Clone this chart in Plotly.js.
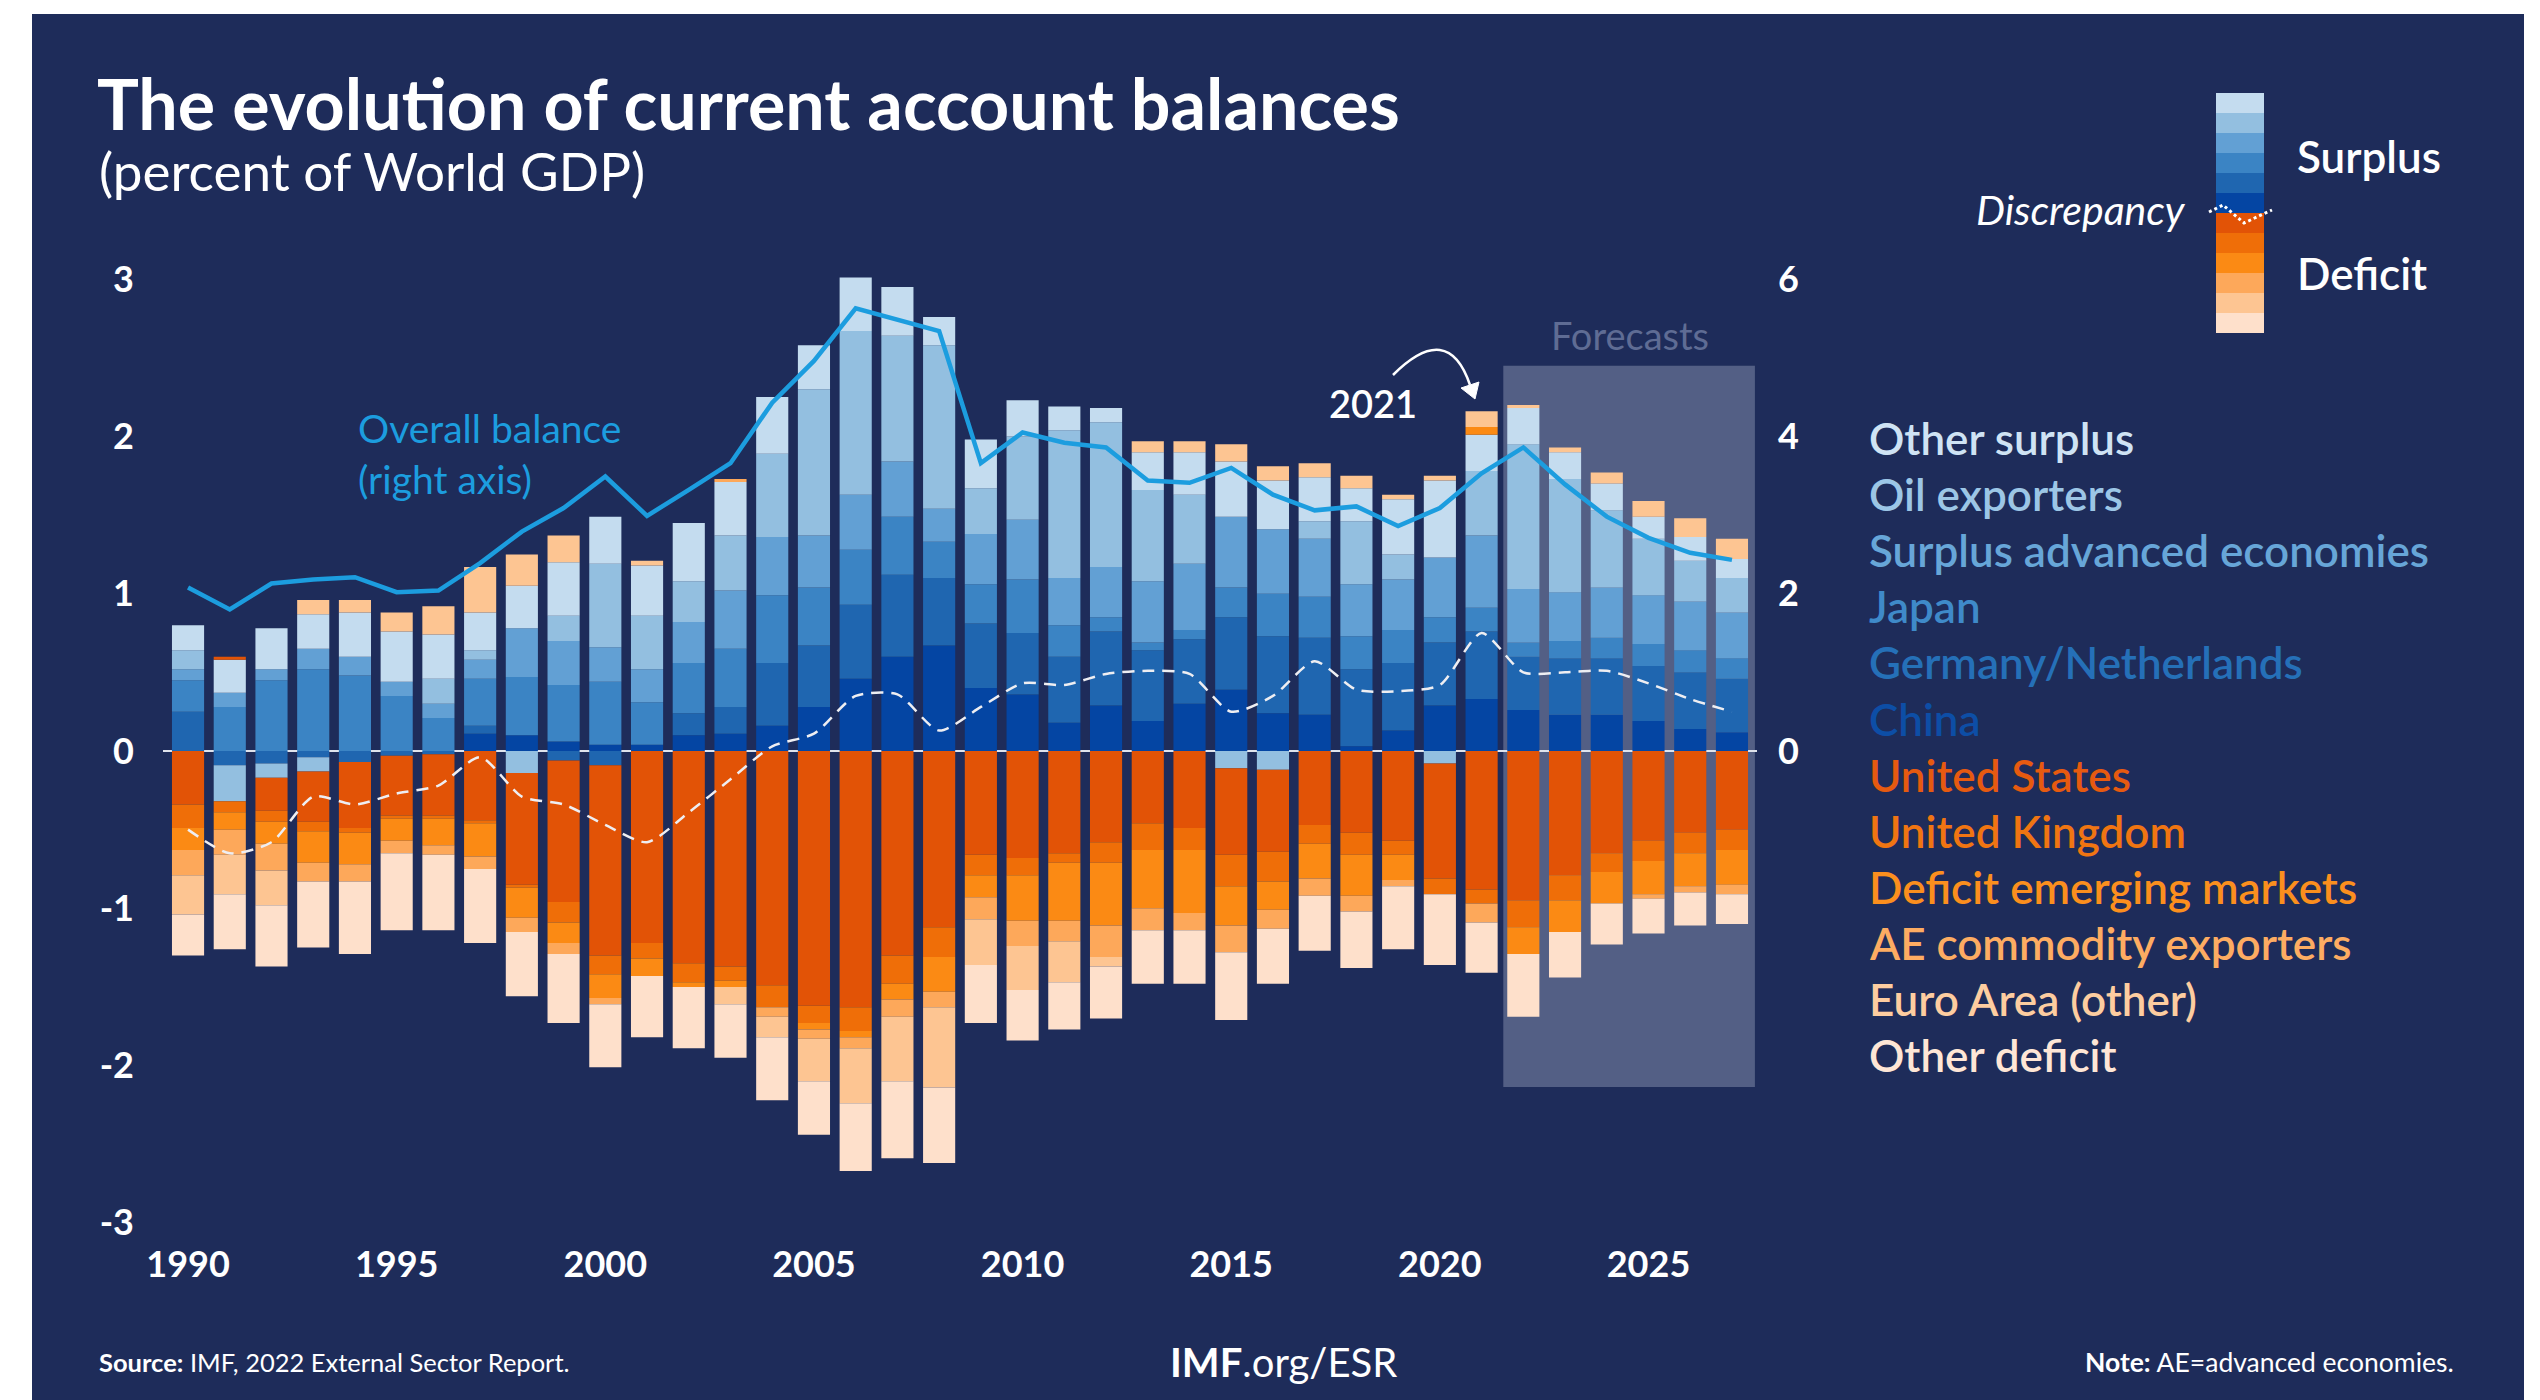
<!DOCTYPE html>
<html><head><meta charset="utf-8">
<script src="https://cdn.plot.ly/plotly-3.0.1.min.js"></script>
<style>
html,body{margin:0;padding:0;background:#ffffff;width:2540px;height:1400px;overflow:hidden}
#chart{position:absolute;left:32px;top:14px;width:2492px;height:1386px}
</style></head><body><div id="chart"></div><script>
// ---------------- data (percent of world GDP) ----------------
const years = [1990,1991,1992,1993,1994,1995,1996,1997,1998,1999,2000,2001,2002,2003,2004,2005,2006,2007,2008,2009,2010,2011,2012,2013,2014,2015,2016,2017,2018,2019,2020,2021,2022,2023,2024,2025,2026,2027];

const seriesNames = ["China","Germany/Netherlands","Japan","Surplus advanced economies","Oil exporters","Other surplus",
  "United States","United Kingdom","Deficit emerging markets","AE commodity exporters","Euro Area (other)","Other deficit"];

const china = [0,0,0,0,0,0,0,0.11,0.10,0.06, 0.04,0.04,0.10,0.11,0.16,0.28,0.46,0.60,0.67,0.40, 0.36,0.18,0.29,0.19,0.30,0.39,0.24,0.23,0.03,0.13, 0.29,0.33,0.26,0.23,0.23,0.19,0.14,0.12];
const germanyNetherlands = [0.25,-0.09,-0.08,-0.04,-0.07,-0.03,-0.02,0.05,0,-0.06, -0.09,0,0.14,0.17,0.40,0.39,0.47,0.52,0.43,0.41, 0.39,0.42,0.47,0.45,0.41,0.46,0.49,0.49,0.49,0.43, 0.40,0.43,0.34,0.36,0.36,0.35,0.36,0.34];
const japan = [0.20,0.28,0.45,0.52,0.48,0.35,0.21,0.30,0.37,0.36, 0.40,0.27,0.32,0.37,0.43,0.37,0.35,0.37,0.23,0.25, 0.34,0.20,0.09,0.05,0.06,0.19,0.27,0.26,0.21,0.21, 0.16,0.15,0.09,0.11,0.13,0.14,0.14,0.13];
const surplusAE = [0.07,0.09,0.07,0.13,0.12,0.09,0.09,0.12,0.31,0.28, 0.22,0.21,0.26,0.37,0.37,0.33,0.35,0.35,0.21,0.32, 0.38,0.30,0.32,0.39,0.42,0.45,0.41,0.37,0.33,0.32, 0.38,0.46,0.34,0.31,0.32,0.31,0.31,0.29];
const oilExporters = [0.12,-0.23,-0.09,-0.09,0,0,0.16,0.06,-0.14,0.16, 0.53,0.34,0.26,0.35,0.53,0.93,1.04,0.80,1.04,0.29, 0.53,0.94,0.92,0.58,0.44,-0.11,-0.12,0.11,0.40,0.16, -0.08,0.41,0.92,0.72,0.49,0.36,0.26,0.22];
const otherSurplus = [0.16,0.21,0.26,0.22,0.28,0.32,0.28,0.24,0.27,0.34, 0.30,0.32,0.37,0.34,0.36,0.28,0.34,0.31,0.18,0.31, 0.23,0.15,0.09,0.24,0.27,0.35,0.31,0.28,0.21,0.35, 0.49,0.23,0.23,0.17,0.17,0.14,0.15,0.12];
const unitedStates = [-0.34,0.02,-0.21,-0.32,-0.42,-0.38,-0.39,-0.44,-0.71,-0.90, -1.21,-1.22,-1.35,-1.37,-1.49,-1.62,-1.63,-1.30,-1.12,-0.66, -0.68,-0.65,-0.58,-0.46,-0.49,-0.55,-0.52,-0.47,-0.52,-0.57, -0.73,-0.88,-0.95,-0.79,-0.65,-0.57,-0.52,-0.50];
const unitedKingdom = [-0.15,-0.07,-0.07,-0.06,-0.03,-0.02,-0.02,-0.02,-0.02,-0.13, -0.12,-0.10,-0.12,-0.09,-0.14,-0.11,-0.15,-0.18,-0.19,-0.13, -0.11,-0.06,-0.13,-0.17,-0.14,-0.20,-0.19,-0.12,-0.14,-0.09, -0.10,-0.09,-0.17,-0.16,-0.12,-0.13,-0.13,-0.13];
const deficitEM = [-0.14,-0.11,-0.14,-0.20,-0.20,-0.14,-0.17,-0.21,-0.19,-0.13, -0.15,-0.11,-0.03,-0.04,0,-0.04,-0.04,-0.10,-0.22,-0.14, -0.29,-0.37,-0.40,-0.37,-0.40,-0.25,-0.18,-0.22,-0.26,-0.16, 0,0.05,-0.17,-0.20,-0.20,-0.21,-0.21,-0.22];
const aeCommodity = [-0.16,-0.16,-0.17,-0.12,-0.11,-0.08,-0.06,-0.08,-0.09,-0.07, -0.04,0,0,0.02,-0.06,-0.06,-0.07,-0.11,-0.10,-0.14, -0.16,-0.13,-0.20,-0.14,-0.11,-0.17,-0.12,-0.11,-0.10,-0.04, 0,-0.12,0,0,0,-0.03,-0.04,-0.06];
const euroOther = [-0.25,-0.25,-0.22,0.09,0.08,0.12,0.18,0.29,0.20,0.17, 0,0.03,0,-0.11,-0.13,-0.27,-0.35,-0.41,-0.51,-0.29, -0.28,-0.26,-0.06,0.07,0.07,0.11,0.09,0.09,0.08,0.03, 0.03,0.10,0.02,0.03,0.07,0.10,0.12,0.13];
const otherDeficit = [-0.26,-0.35,-0.39,-0.42,-0.46,-0.49,-0.48,-0.47,-0.41,-0.44, -0.40,-0.39,-0.39,-0.34,-0.40,-0.34,-0.43,-0.49,-0.48,-0.37, -0.32,-0.30,-0.33,-0.34,-0.34,-0.43,-0.35,-0.35,-0.36,-0.40, -0.45,-0.32,-0.40,-0.29,-0.26,-0.22,-0.21,-0.19];

// right axis
const overallBalance = [2.08,1.80,2.13,2.18,2.21,2.02,2.04,2.39,2.79,3.09, 3.49,2.99,3.32,3.66,4.43,4.96,5.63,5.49,5.34,3.66, 4.05,3.92,3.86,3.44,3.41,3.60,3.26,3.06,3.11,2.86, 3.09,3.53,3.86,3.39,2.98,2.71,2.52,2.43];
// left axis
const discrepancy = [-0.50,-0.65,-0.58,-0.29,-0.34,-0.27,-0.22,-0.04,-0.29,-0.34, -0.47,-0.58,-0.39,-0.18,0.03,0.11,0.35,0.36,0.13,0.28, 0.43,0.42,0.49,0.51,0.49,0.25,0.35,0.57,0.39,0.38, 0.42,0.75,0.50,0.50,0.51,0.43,0.33,0.25];

const xTickVals = [1990,1995,2000,2005,2010,2015,2020,2025];
const yTickVals = [-3,-2,-1,0,1,2,3];
const yTickText = ["-3","-2","-1","0","1","2","3"];
const y2TickVals = [0,2,4,6];
const y2TickText = ["0","2","4","6"];

// ---------------- styles ----------------
const seriesValues = [china,germanyNetherlands,japan,surplusAE,oilExporters,otherSurplus,unitedStates,unitedKingdom,deficitEM,aeCommodity,euroOther,otherDeficit];
const seriesColors = ["#0445a3","#1f66b0","#3b84c4","#62a0d4","#93bfe0","#c4dcef","#e25306","#ef6e08","#fb8a14","#fda85a","#fdc592","#fee0cb"];
const legendTextColors = ["#0d4ea6","#2570b8","#3f8ac9","#67a6d8","#9cc6e6","#cfe3f4","#e65a10","#f07512","#fb8f1e","#fdac62","#fdcda0","#fee6d6"];
const NAVY = "#1e2c5a";
const FONT = "Lato, 'Open Sans', sans-serif";

// plot geometry (div px)
const DW = 2492, DH = 1386, ML = 131, MR = 767, MT = 262, MB = 174;
const PW = DW - ML - MR, PH = DH - MT - MB;
const PX = x => (x - ML) / PW;             // div px -> paper x
const PY = y => 1 - (y - MT) / PH;         // div px -> paper y
const GX = x => PX(x - 32);                // page px -> paper x
const GY = y => PY(y - 14);                // page px -> paper y

// ---------------- traces ----------------
const traces = seriesNames.map((name, i) => ({
  type: "bar", name: name, x: years, y: seriesValues[i],
  marker: {color: seriesColors[i], line: {width: 0}},
  hoverinfo: "skip", showlegend: false
}));
traces.push({
  type: "scatter", mode: "lines", x: years, y: discrepancy, name: "Discrepancy",
  line: {color: "#eeeef2", width: 2.5, dash: "12px,8px", shape: "spline", smoothing: 0.7},
  hoverinfo: "skip", showlegend: false
});
traces.push({
  type: "scatter", mode: "lines", x: years, y: overallBalance, yaxis: "y2", name: "Overall balance",
  line: {color: "#1c9ddf", width: 4.5},
  hoverinfo: "skip", showlegend: false
});

// ---------------- shapes ----------------
const shapes = [];
// Forecast box
shapes.push({type: "rect", xref: "x", yref: "y", x0: 2021.52, x1: 2027.55, y0: -2.137, y1: 2.449,
  fillcolor: "#535f85", line: {width: 0}, layer: "below"});
// curved arrow to 2021
const s = [GX(1393), GY(375)], c = [GX(1448), GY(320)], e = [GX(1470), GY(385)];
shapes.push({type: "path", xref: "paper", yref: "paper",
  path: `M ${s[0]},${s[1]} Q ${c[0]},${c[1]} ${e[0]},${e[1]}`, line: {color: "#ffffff", width: 2.5}});
shapes.push({type: "path", xref: "paper", yref: "paper",
  path: `M ${GX(1461)},${GY(388)} L ${GX(1479)},${GY(382)} L ${GX(1475)},${GY(399)} Z`,
  fillcolor: "#ffffff", line: {color: "#ffffff", width: 1}});
// legend colour bar: top = other surplus ... china, then US ... other deficit
const barOrder = [5,4,3,2,1,0,6,7,8,9,10,11];
barOrder.forEach((k, j) => {
  const y0 = 93 + j * 20;
  shapes.push({type: "rect", xref: "paper", yref: "paper",
    x0: GX(2216), x1: GX(2264), y0: GY(y0 + 20), y1: GY(y0),
    fillcolor: seriesColors[k], line: {width: 0}});
});
// legend discrepancy dotted zigzag
shapes.push({type: "path", xref: "paper", yref: "paper",
  path: `M ${GX(2209)},${GY(212)} L ${GX(2223)},${GY(205)} L ${GX(2244)},${GY(223)} L ${GX(2272)},${GY(210)}`,
  line: {color: "#ffffff", width: 3, dash: "dot"}});

// ---------------- annotations ----------------
const ann = [];
const A = (text, x, y, size, color, opts) => ann.push(Object.assign({
  text: text, xref: "paper", yref: "paper", x: GX(x), y: GY(y), showarrow: false,
  xanchor: "left", yanchor: "middle", font: {family: FONT, size: size, color: color}
}, opts || {}));

A("(percent of World GDP)", 97, 170, 53, "#ffffff");
A("Overall balance<br>(right axis)", 356, 453, 39, "#1c9ddf", {align: "left"});
A("Forecasts", 1630, 335, 38, "#5f6c94", {xanchor: "center"});
A("2021", 1373, 403, 38, "#ffffff", {xanchor: "center", font: {family: FONT, size: 38, color: "#ffffff", weight: 600}});
A("Surplus", 2295, 156, 44, "#ffffff", {font: {family: FONT, size: 44, color: "#ffffff", weight: 600}});
A("Deficit", 2295, 273, 44, "#ffffff", {font: {family: FONT, size: 44, color: "#ffffff", weight: 600}});
A("<i>Discrepancy</i>", 2188, 210, 41, "#ffffff", {xanchor: "right"});
// series list (top = other surplus)
barOrder.forEach((k, j) => {
  A(seriesNames[k], 1867, 438 + j * 56.1, 44, legendTextColors[k], {font: {family: FONT, size: 44, color: legendTextColors[k], weight: 600}});
});
A("<b>Source:</b> IMF, 2022 External Sector Report.", 97, 1362, 25.5, "#ffffff");
A("<b>IMF</b>.org/ESR", 1283, 1362, 40, "#ffffff", {xanchor: "center"});
A("<b>Note:</b> AE=advanced economies.", 2456, 1362, 26.5, "#ffffff", {xanchor: "right"});

// ---------------- layout ----------------
const tickFont = {family: FONT, size: 36, color: "#ffffff", weight: 700};
const layout = {
  width: DW, height: DH,
  paper_bgcolor: NAVY, plot_bgcolor: "rgba(0,0,0,0)",
  margin: {l: ML, r: MR, t: MT, b: MB, pad: 0},
  barmode: "relative", bargap: 0.23,
  hovermode: false, showlegend: false,
  title: {text: "The evolution of current account balances",
    font: {family: FONT, size: 70, color: "#ffffff", weight: 700},
    xref: "container", yref: "container", x: 65 / DW, y: 1 - 91 / DH, xanchor: "left", yanchor: "middle"},
  xaxis: {range: [1989.4, 2027.6], tickvals: xTickVals, ticktext: xTickVals.map(String),
    showgrid: false, zeroline: false, showline: false, ticks: "", tickfont: tickFont, ticklabelstandoff: 14, fixedrange: true},
  yaxis: {range: [-3.02, 3.02], tickvals: yTickVals, ticktext: yTickText,
    showgrid: false, zeroline: true, zerolinecolor: "#dfe3ec", zerolinewidth: 2, showline: false, ticks: "",
    tickfont: tickFont, ticklabelstandoff: 28, layer: "above traces", fixedrange: true},
  yaxis2: {range: [-6.04, 6.04], overlaying: "y", side: "right", tickvals: y2TickVals, ticktext: y2TickText,
    showgrid: false, zeroline: false, showline: false, ticks: "", tickfont: tickFont, ticklabelstandoff: 20, fixedrange: true},
  shapes: shapes,
  annotations: ann
};

Plotly.newPlot("chart", traces, layout, {staticPlot: true, displayModeBar: false});
</script></body></html>
